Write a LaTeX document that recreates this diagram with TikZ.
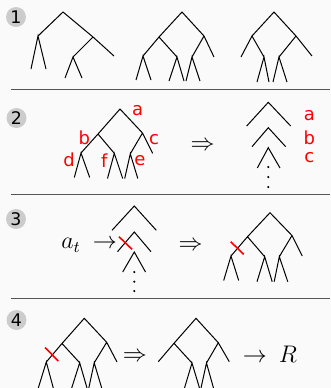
\documentclass[tikz,border=0pt]{standalone}
\usepackage{fontspec}
\newfontfamily\lblfont{DejaVu Sans}
\usepackage{tikz}
\usetikzlibrary{arrows.meta,calc}
\definecolor{bgGray}{HTML}{FAFAFA}
\definecolor{sepGray}{HTML}{555555}
\definecolor{cutRed}{HTML}{FF0000}

\begin{document}
\begin{tikzpicture}[x=0.5pt,y=-0.5pt,
  br/.style={line width=0.5pt},
  cut/.style={cutRed,line width=0.8pt},
  sep/.style={sepGray,line width=0.65pt},
  num/.style={circle,fill=gray!40,minimum size=10pt,inner sep=0pt,font=\lblfont\fontsize{8.7}{9}\selectfont},
  lbl/.style={text=cutRed,inner sep=0pt,font=\lblfont\fontsize{9}{10}\selectfont},
  mth/.style={inner sep=0pt,font=\fontsize{11.5}{13}\selectfont},
  pt/.style={circle,fill,inner sep=0pt,minimum size=1.2pt}]
\fill[bgGray] (0,0) rectangle (331,388);
\useasboundingbox (0,0) rectangle (331,388);
\clip (0,0) rectangle (331,388);
% --- (1) three trees ---
  \node[num] (n1) at (16,17) {1};
  \coordinate (A) at (63,12);
  \coordinate (Al) at (38,36);
  \coordinate (Ar) at (93,37);
  \coordinate (All) at (31,69);
  \coordinate (Alr) at (46,69);
  \coordinate (Arr) at (114,56);
  \coordinate (Arl) at (73,57);
  \coordinate (Arll) at (65,78);
  \coordinate (Arlr) at (82,78);
  \draw[br] (Al) -- (A) -- (Ar) -- (Arr) (All) -- (Al) -- (Alr)
    (Ar) -- (Arl) (Arll) -- (Arl) -- (Arlr);
  \coordinate (B) at (182,12);
  \coordinate (Bl) at (159,37);
  \coordinate (Br) at (204,36);
  \coordinate (Bll) at (143,56);
  \coordinate (Blll) at (136,80);
  \coordinate (Bllr) at (151,80);
  \coordinate (Blr) at (177,57);
  \coordinate (Blrl) at (169,81);
  \coordinate (Blrr) at (184,81);
  \coordinate (Brl) at (192,57);
  \coordinate (Brll) at (186,81);
  \coordinate (Brlr) at (200,81);
  \coordinate (Brr) at (214,57);
  \draw[br] (Bl) -- (B) -- (Br) -- (Brr) (Bll) -- (Bl) -- (Blr) (Br) -- (Brl)
    (Blll) -- (Bll) -- (Bllr) (Blrl) -- (Blr) -- (Blrr) (Brll) -- (Brl) -- (Brlr);
  \coordinate (C) at (274,12);
  \coordinate (Cl) at (252,36);
  \coordinate (Cr) at (296,36);
  \coordinate (Cll) at (241,57);
  \coordinate (Clr) at (264,57);
  \coordinate (Clrl) at (257,82);
  \coordinate (Clrr) at (269,82);
  \coordinate (Crl) at (279,57);
  \coordinate (Crll) at (273,82);
  \coordinate (Crlr) at (287,82);
  \coordinate (Crr) at (312,56);
  \draw[br] (Cl) -- (C) -- (Cr) -- (Crr) (Cll) -- (Cl) -- (Clr) (Cr) -- (Crl)
    (Clrl) -- (Clr) -- (Clrr) (Crll) -- (Crl) -- (Crlr);
  \draw[sep] (11,89.5) -- (330,89.5);
% --- (2) labelled tree and its spine ---
  \node[num] (n2) at (16.5,118) {2};
  \coordinate (D) at (120,109);
  \coordinate (Dl) at (98,134);
  \coordinate (Dr) at (142.5,133);
  \coordinate (Dll) at (81,153);
  \coordinate (Dlll) at (74.3,177.5);
  \coordinate (Dllr) at (89.7,177.5);
  \coordinate (Dlr) at (114.3,153.3);
  \coordinate (Dlrl) at (107.5,178.5);
  \coordinate (Dlrr) at (122.7,178.5);
  \coordinate (Drl) at (130.3,153.8);
  \coordinate (Drll) at (124.7,178.5);
  \coordinate (Drlr) at (137.8,178.5);
  \coordinate (Drr) at (152.7,153.3);
  \draw[br] (Dl) -- (D) -- (Dr) -- (Drr) (Dll) -- (Dl) -- (Dlr) (Dr) -- (Drl)
    (Dlll) -- (Dll) -- (Dllr) (Dlrl) -- (Dlr) -- (Dlrr) (Drll) -- (Drl) -- (Drlr);
  \node[lbl] (la) at (137.7,110.7) {a};
  \node[lbl] (lb) at (84.3,137.7) {b};
  \node[lbl] (lc) at (154,140) {c};
  \node[lbl] (ld) at (69,160) {d};
  \node[lbl] (lf) at (104.3,161) {f};
  \node[lbl] (le) at (140,161) {e};
  \node[mth,anchor=base] (imp2) at (202.7,150.5) {$\Rightarrow$};
  \coordinate (K1) at (268.3,102.3);
  \coordinate (K1l) at (246.7,126);
  \coordinate (K1r) at (290.7,126);
  \coordinate (K2) at (268.3,127.7);
  \coordinate (K2l) at (252,146.7);
  \coordinate (K2r) at (285.7,146.7);
  \coordinate (K3) at (268.3,147.7);
  \coordinate (K3l) at (257.3,168);
  \coordinate (K3r) at (280,168);
  \draw[br] (K1l) -- (K1) -- (K1r) (K2l) -- (K2) -- (K2r) (K3l) -- (K3) -- (K3r);
  \foreach \y/\k in {167/1,177/2,187/3}
    \node[pt] (kd\k) at (268.3,\y) {};
  \node[lbl] (ka) at (309.3,115.5) {a};
  \node[lbl] (kb) at (309.3,137.5) {b};
  \node[lbl] (kc) at (309.3,158) {c};
  \draw[sep] (11,194.5) -- (330,194.5);
% --- (3) cut at step t ---
  \node[num] (n3) at (16,219) {3};
  \node[mth,anchor=base west] (at) at (61,248.5) {$a_t\:\rightarrow$};
  \coordinate (M1) at (134.3,206);
  \coordinate (M1l) at (112,230.3);
  \coordinate (M1r) at (156.3,230.3);
  \coordinate (M2) at (134.3,232);
  \coordinate (M2l) at (117.5,251.7);
  \coordinate (M2r) at (151,251.7);
  \coordinate (M3) at (134.3,252);
  \coordinate (M3l) at (122.7,272);
  \coordinate (M3r) at (145.5,272);
  \draw[br] (M1l) -- (M1) -- (M1r) (M2l) -- (M2) -- (M2r) (M3l) -- (M3) -- (M3r);
  \foreach \y/\k in {272/1,281.7/2,291/3}
    \node[pt] (md\k) at (134.3,\y) {};
  \coordinate (cutA) at (119,236.7);
  \coordinate (cutB) at (132,249.3);
  \draw[cut] (cutA) -- (cutB);
  \node[mth,anchor=base] (imp3) at (190.7,250.5) {$\Rightarrow$};
  \coordinate (E) at (270,212.7);
  \coordinate (El) at (247.5,236.7);
  \coordinate (Er) at (292,235.5);
  \coordinate (Ell) at (231,256);
  \coordinate (Elll) at (223.7,280.5);
  \coordinate (Ellr) at (238.7,280.5);
  \coordinate (Elr) at (264.7,256.7);
  \coordinate (Elrl) at (257,281.7);
  \coordinate (Elrr) at (272.2,281.7);
  \coordinate (Erl) at (279.3,256.7);
  \coordinate (Erll) at (274.2,281.7);
  \coordinate (Erlr) at (287.8,281.7);
  \coordinate (Err) at (302.3,256);
  \draw[br] (El) -- (E) -- (Er) -- (Err) (Ell) -- (El) -- (Elr) (Er) -- (Erl)
    (Elll) -- (Ell) -- (Ellr) (Elrl) -- (Elr) -- (Elrr) (Erll) -- (Erl) -- (Erlr);
  \coordinate (cutC) at (230.7,241.7);
  \coordinate (cutD) at (243.7,254.3);
  \draw[cut] (cutC) -- (cutD);
  \draw[sep] (11,298.5) -- (330,298.5);
% --- (4) pruned tree gives R ---
  \node[num] (n4) at (16.5,320) {4};
  \coordinate (F) at (84.3,318.3);
  \coordinate (Fl) at (62,343.5);
  \coordinate (Fr) at (106.7,342.3);
  \coordinate (Fll) at (46.3,362);
  \coordinate (Flll) at (38.3,388);
  \coordinate (Fllr) at (53.3,388);
  \coordinate (Flr) at (79.7,362.8);
  \coordinate (Flrl) at (71.7,388);
  \coordinate (Flrr) at (87,388);
  \coordinate (Frl) at (94.2,362.8);
  \coordinate (Frll) at (88.8,388);
  \coordinate (Frlr) at (101.7,388);
  \coordinate (Frr) at (117,362);
  \draw[br] (Fl) -- (F) -- (Fr) -- (Frr) (Fll) -- (Fl) -- (Flr) (Fr) -- (Frl)
    (Flll) -- (Fll) -- (Fllr) (Flrl) -- (Flr) -- (Flrr) (Frll) -- (Frl) -- (Frlr);
  \coordinate (cutE) at (45,347.5);
  \coordinate (cutF) at (58.3,361);
  \draw[cut] (cutE) -- (cutF);
  \node[mth,anchor=base] (imp4) at (135,361.5) {$\Rightarrow$};
  \coordinate (G) at (196,318.3);
  \coordinate (Gl) at (174,343.3);
  \coordinate (Gr) at (218.3,342.7);
  \coordinate (Gll) at (158.3,361.7);
  \coordinate (Glr) at (192,363);
  \coordinate (Glrl) at (184.5,388);
  \coordinate (Glrr) at (199.5,388);
  \coordinate (Grl) at (206.5,363);
  \coordinate (Grll) at (201,388);
  \coordinate (Grlr) at (213.5,388);
  \coordinate (Grr) at (229.3,361.7);
  \draw[br] (Gl) -- (G) -- (Gr) -- (Grr) (Gll) -- (Gl) -- (Glr) (Gr) -- (Grl)
    (Glrl) -- (Glr) -- (Glrr) (Grll) -- (Grl) -- (Grlr);
  \node[mth,anchor=base west] (res) at (242.5,362.5) {$\rightarrow\:R$};
\end{tikzpicture}
\end{document}
